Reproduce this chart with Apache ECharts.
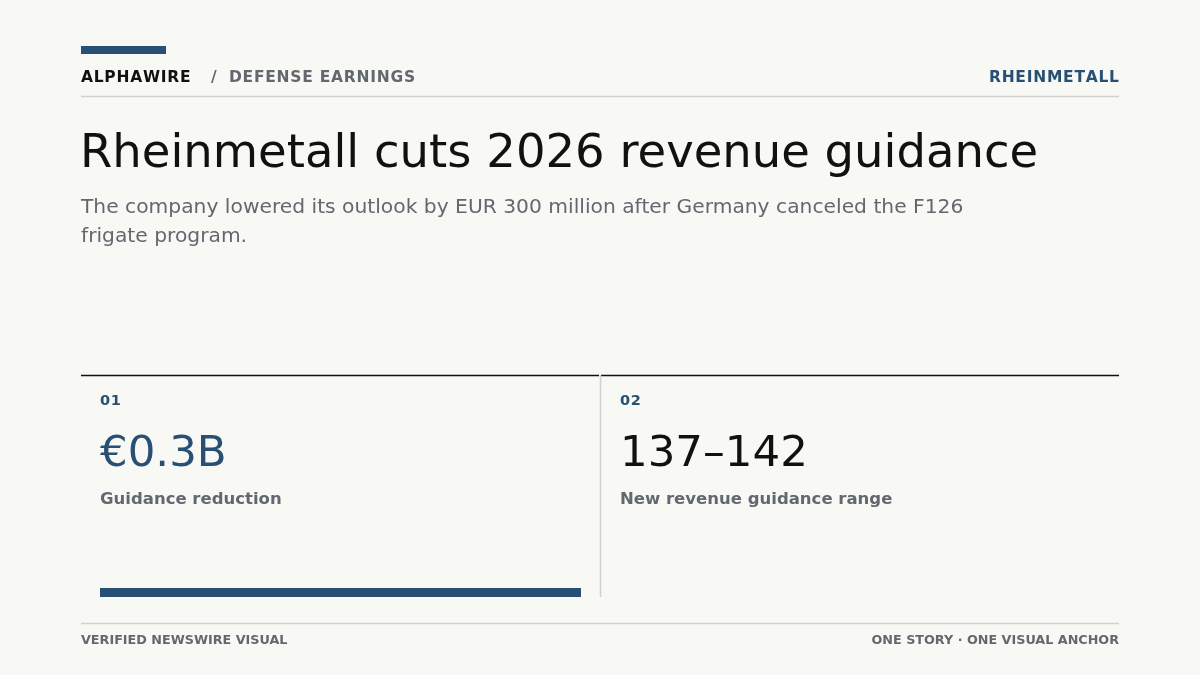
<!DOCTYPE html>
<html>
<head>
<meta charset="utf-8">
<script src="https://cdn.jsdelivr.net/npm/echarts@6/dist/echarts.min.js"></script>
<style>
  html, body { margin: 0; padding: 0; background: #f8f8f5; }
  #main { width: 1200px; height: 675px; }
</style>
</head>
<body>
<div id="main"></div>
<script>
// card content
const cardIndex = ['01', '02'];
const cardValues = ['€0.3B', '137–142'];
const cardLabels = ['Guidance reduction', 'New revenue guidance range'];
// the one drawn bar: the guidance cut, in EUR billions
const barCategories = ['Guidance reduction'];
const barValues = [0.3];
const barMax = 0.3;

const BLUE = '#284f74';
const GRAY = '#63686f';
const INK = '#111111';
const FONT = 'DejaVu Sans';

// zrender has no letter-spacing: put a tiny hair space between letters
function spaced(s) {
    return s.split('').join('{h|\u200A}');
}

function txt(x, y, text, size, color, weight, align) {
    return {
        type: 'text',
        x: x, y: y,
        style: {
            text: text,
            fontFamily: FONT,
            fontSize: size,
            fontWeight: weight || 'normal',
            fill: color,
            align: align || 'left',
            verticalAlign: 'middle',
            rich: { h: { fontSize: 7.5, fontFamily: FONT } }
        },
        silent: true
    };
}
function line(x1, y1, x2, y2, color, w) {
    return {
        type: 'line',
        shape: { x1: x1, y1: y1, x2: x2, y2: y2 },
        style: { stroke: color, lineWidth: w },
        silent: true
    };
}

let graphics = [
    { type: 'rect', shape: { x: 81, y: 46, width: 85, height: 8 }, style: { fill: BLUE } },
    txt(81, 78, spaced('ALPHAWIRE'), 15.5, INK, 'bold'),
    txt(211, 78, '/', 15.5, GRAY, 'bold'),
    txt(229, 78, spaced('DEFENSE EARNINGS'), 15.5, GRAY, 'bold'),
    txt(1119, 78, spaced('RHEINMETALL'), 15.5, BLUE, 'bold', 'right'),
    line(81, 96.5, 1119, 96.5, '#cfd0d0', 1.5),
    txt(80, 155, 'Rheinmetall cuts 2026 revenue guidance', 46.5, INK),
    txt(81, 208, 'The company lowered its outlook by EUR 300 million after Germany canceled the F126', 20.25, GRAY),
    txt(81, 237, 'frigate program.', 20.25, GRAY),
    line(81, 375.5, 599, 375.5, INK, 1.5),
    line(601, 375.5, 1119, 375.5, INK, 1.5),
    line(600.5, 375, 600.5, 597, '#cfd0d0', 1.5),
    line(81, 623.5, 1119, 623.5, '#cfd0d0', 1.5),
    txt(81, 641, 'VERIFIED NEWSWIRE VISUAL', 12.75, GRAY, 'bold'),
    txt(1119, 641, 'ONE STORY · ONE VISUAL ANCHOR', 12.75, GRAY, 'bold', 'right')
];

cardIndex.forEach(function (idx, i) {
    let x = i === 0 ? 100 : 620;
    graphics.push(txt(x, 401.5, spaced(idx), 14.5, BLUE, 'bold'));
    graphics.push(txt(x, 454.5, cardValues[i], 43.5, i === 0 ? BLUE : INK));
    graphics.push(txt(x, 500, cardLabels[i], 16.5, GRAY, 'bold'));
});

let option = {
    backgroundColor: '#f8f8f5',
    animation: false,
    grid: { left: 100, top: 588, width: 481, height: 9 },
    xAxis: { type: 'value', min: 0, max: barMax, show: false },
    yAxis: { type: 'category', data: barCategories, show: false },
    series: [{
        type: 'bar',
        data: barValues,
        barWidth: 9,
        itemStyle: { color: BLUE },
        silent: true
    }],
    graphic: graphics
};

let chart = echarts.init(document.getElementById('main'));
chart.setOption(option);
</script>
</body>
</html>
